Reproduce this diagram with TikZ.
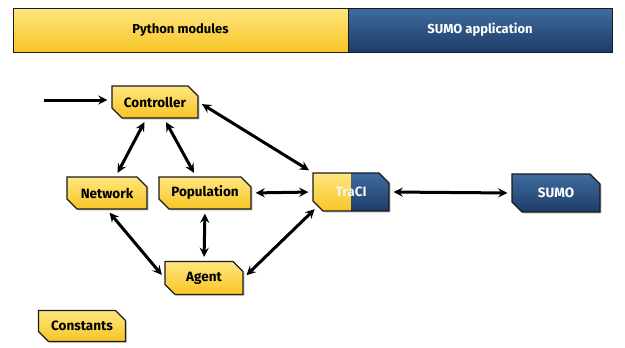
\documentclass[tikz,border=0pt]{standalone}
\usepackage{fontspec}
\setmainfont{Fira Sans}
\usepackage{tikz}
\usetikzlibrary{shapes.misc,shadows}

\definecolor{ytop}{HTML}{FFE680}
\definecolor{ybot}{HTML}{F7C525}
\definecolor{btop}{HTML}{3F6C9F}
\definecolor{bbot}{HTML}{1D3C68}
\definecolor{edge}{HTML}{1A1A1A}

\tikzset{
  modbox/.style={chamfered rectangle, chamfered rectangle corners={north east,south west},
    chamfered rectangle xsep=5pt, chamfered rectangle ysep=5pt,
    draw=edge, line width=1.2pt, inner sep=2pt,
    drop shadow={shadow xshift=1.5pt, shadow yshift=-1.5pt, opacity=0.35},
    font=\fontsize{13.5}{15}\selectfont\bfseries},
  ybox/.style={modbox, top color=ytop, bottom color=ybot, text=black},
  bbox/.style={modbox, top color=btop, bottom color=bbot, text=white},
  band/.style={draw=edge, line width=1pt, minimum height=44pt, inner sep=0pt,
    font=\fontsize{13}{15}\selectfont\bfseries},
  link/.style={line width=3pt, shorten >=4pt, shorten <=4pt}
}

\begin{document}
\begin{tikzpicture}[x=1pt, y=-1pt]
				\useasboundingbox (0,0) rectangle (625,348);
				% header
				\node[band, minimum width=335pt, top color=ytop, bottom color=ybot, text=black] (pymod)at(180.5, 30) {Python modules};
				\node[band, minimum width=264pt, top color=btop, bottom color=bbot, text=white] (sumoapp)at(480, 30) {SUMO application};
				% modules
				\node[ybox, minimum width=86pt, minimum height=32pt] (ctrl)at(155, 102) {Controller};
				\node[ybox, minimum width=80pt, minimum height=32pt] (net)at(107, 193) {Network};
				\node[ybox, minimum width=92pt, minimum height=32pt] (pop)at(205, 193) {Population};
				\node[ybox, minimum width=78pt, minimum height=33pt] (agent)at(204, 278) {Agent};
				\node[ybox, minimum width=87pt, minimum height=31pt] (const)at(82, 326) {Constants};
				\node[modbox, minimum width=76pt, minimum height=38pt, text=white!92!gray,
					path picture={
						\shade[top color=ytop, bottom color=ybot] (path picture bounding box.south west) rectangle (path picture bounding box.north);
						\shade[top color=btop, bottom color=bbot] (path picture bounding box.south) rectangle (path picture bounding box.north east);
					}] (traci)at(351, 192) {TraCI};
				\node[bbox, minimum width=88pt, minimum height=38pt] (sumo)at(556, 193) {SUMO};
				\coordinate (input)at(44, 100);
				% connections
				\draw[->, >=stealth, link, shorten <=0pt] (input) -- (input -| ctrl.west);
				\draw[<->, >=stealth, link] (ctrl) -- (net);
				\draw[<->, >=stealth, link] (ctrl) -- (pop);
				\draw[<->, >=stealth, link] (ctrl.east) -- (traci.north west);
				\draw[<->, >=stealth, link] (pop.east) -- (traci.west);
				\draw[<->, >=stealth, link] (net.south) -- (agent.west);
				\draw[<->, >=stealth, link] (pop.south) -- (agent.north);
				\draw[<->, >=stealth, link] (agent.east) -- (traci.south west);
				\draw[<->, >=stealth, link] (traci.east) -- (sumo.west);
			\end{tikzpicture}
\end{document}
